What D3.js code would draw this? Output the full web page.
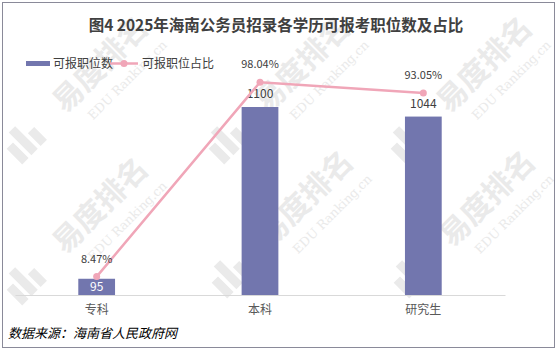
<!DOCTYPE html>
<html><head><meta charset="utf-8">
<script src="https://cdn.jsdelivr.net/npm/d3@7"></script>
<style>body{margin:0;background:#fff}svg{display:block}</style>
</head><body>
<script>
const categories = ["专科", "本科", "研究生"];
const positions = [95, 1100, 1044];
const shares = [0.0847, 0.9804, 0.9305];
const shareLabels = ["8.47%", "98.04%", "93.05%"];
const titleText = "图4 2025年海南公务员招录各学历可报考职位数及占比";
const legendLabels = ["可报职位数", "可报职位占比"];
const sourceText = "数据来源：海南省人民政府网";
const watermarkTexts = ["易度排名", "EDU Ranking.cn"];

const W = 560, H = 351;
const barColor = "#7276AE", lineColor = "#F0A6B8", textColor = "#404040";
const font = "'Noto Sans CJK SC', sans-serif";
const svg = d3.select("body").append("svg").attr("width", W).attr("height", H);

// watermarks (behind everything)
const wmColor = "#EAEAEA";
const wm = svg.append("g").attr("fill", wmColor);
const wmSpots = [[100, 64], [302, 64], [484, 64], [100, 205], [305, 198], [487, 198]];
const logoOnly = [[100, 352], [305, 347], [487, 347]];
function logo(g) {
  g.append("rect").attr("x", -126).attr("y", -6).attr("width", 9).attr("height", 22);
  g.append("rect").attr("x", -113).attr("y", -16).attr("width", 9).attr("height", 32);
  g.append("rect").attr("x", -100).attr("y", -2).attr("width", 9).attr("height", 18);
}
wmSpots.forEach(([px, py]) => {
  const g = wm.append("g").attr("transform", `translate(${px},${py}) rotate(-45)`);
  logo(g);
  g.append("text").attr("text-anchor", "middle").attr("y", 11).attr("font-size", 30)
    .attr("font-weight", "bold").attr("font-family", font).text(watermarkTexts[0]);
  g.append("text").attr("text-anchor", "middle").attr("x", 8).attr("y", 35).attr("font-size", 12.5)
    .attr("font-family", "'DejaVu Serif', serif").text(watermarkTexts[1]);
});
logoOnly.forEach(([px, py]) => {
  const g = wm.append("g").attr("transform", `translate(${px},${py}) rotate(-45)`);
  logo(g);
});

svg.append("rect").attr("x", 2.5).attr("y", 2.5).attr("width", 552).attr("height", 345)
  .attr("fill", "none").attr("stroke", "#8A8A99").attr("stroke-width", 1);

const x = d3.scaleBand().domain(categories).range([15, 505]).paddingInner(0.775).paddingOuter(0.3875);
const baseY = 295, topY = 78;
const y = d3.scaleLinear().domain([0, 1100 * (baseY - topY) / 188]).range([baseY, topY]);
const y2 = d3.scaleLinear().domain([0, 1]).range([baseY, topY]);

svg.append("text").attr("x", 276).attr("y", 31).attr("text-anchor", "middle")
  .attr("font-family", font).attr("font-weight", "bold").attr("font-size", 15.5)
  .attr("fill", textColor).text(titleText);

// bars
svg.append("g").selectAll("rect").data(categories).join("rect")
  .attr("x", d => x(d)).attr("width", x.bandwidth())
  .attr("y", (d, i) => y(positions[i])).attr("height", (d, i) => baseY - y(positions[i]))
  .attr("fill", barColor);

// axis
const ax = svg.append("g").attr("transform", `translate(0,${baseY})`)
  .call(d3.axisBottom(x).tickSize(0).tickPadding(10));
ax.select(".domain").attr("stroke", "#D9D9D9");
ax.selectAll("text").attr("font-family", font).attr("font-size", 12).attr("fill", "#595959");

// bar labels
svg.append("g").selectAll("text").data(categories).join("text")
  .attr("x", d => x(d) + x.bandwidth() / 2)
  .attr("y", (d, i) => i === 0 ? y(positions[i]) + 12 : y(positions[i]) - 9)
  .attr("text-anchor", "middle").attr("font-family", font).attr("font-size", 12)
  .attr("fill", (d, i) => i === 0 ? "#fff" : textColor)
  .text((d, i) => positions[i]);

// line
const cx = d => x(d) + x.bandwidth() / 2;
svg.append("path").datum(categories)
  .attr("d", d3.line().x(d => cx(d)).y((d, i) => y2(shares[i])))
  .attr("fill", "none").attr("stroke", lineColor).attr("stroke-width", 2.5);
svg.append("g").selectAll("circle").data(categories).join("circle")
  .attr("cx", cx).attr("cy", (d, i) => y2(shares[i])).attr("r", 3.5).attr("fill", lineColor);
svg.append("g").selectAll("text").data(categories).join("text")
  .attr("x", cx).attr("y", (d, i) => y2(shares[i]) - 14)
  .attr("text-anchor", "middle").attr("font-family", font).attr("font-size", 11)
  .attr("fill", textColor).text((d, i) => shareLabels[i]);

// legend
const lg = svg.append("g").attr("font-family", font).attr("font-size", 12).attr("fill", textColor);
lg.append("rect").attr("x", 26).attr("y", 61).attr("width", 24).attr("height", 5).attr("fill", barColor);
lg.append("text").attr("x", 53).attr("y", 68).text(legendLabels[0]);
lg.append("line").attr("x1", 110).attr("x2", 138).attr("y1", 63.5).attr("y2", 63.5).attr("stroke", lineColor).attr("stroke-width", 2.5);
lg.append("circle").attr("cx", 124).attr("cy", 63.5).attr("r", 3.5).attr("fill", lineColor);
lg.append("text").attr("x", 142).attr("y", 68).text(legendLabels[1]);

svg.append("text").attr("x", 8).attr("y", 338).attr("font-family", font)
  .attr("font-style", "italic").attr("font-size", 13).attr("fill", "#000")
  .text(sourceText);
</script>
</body></html>
